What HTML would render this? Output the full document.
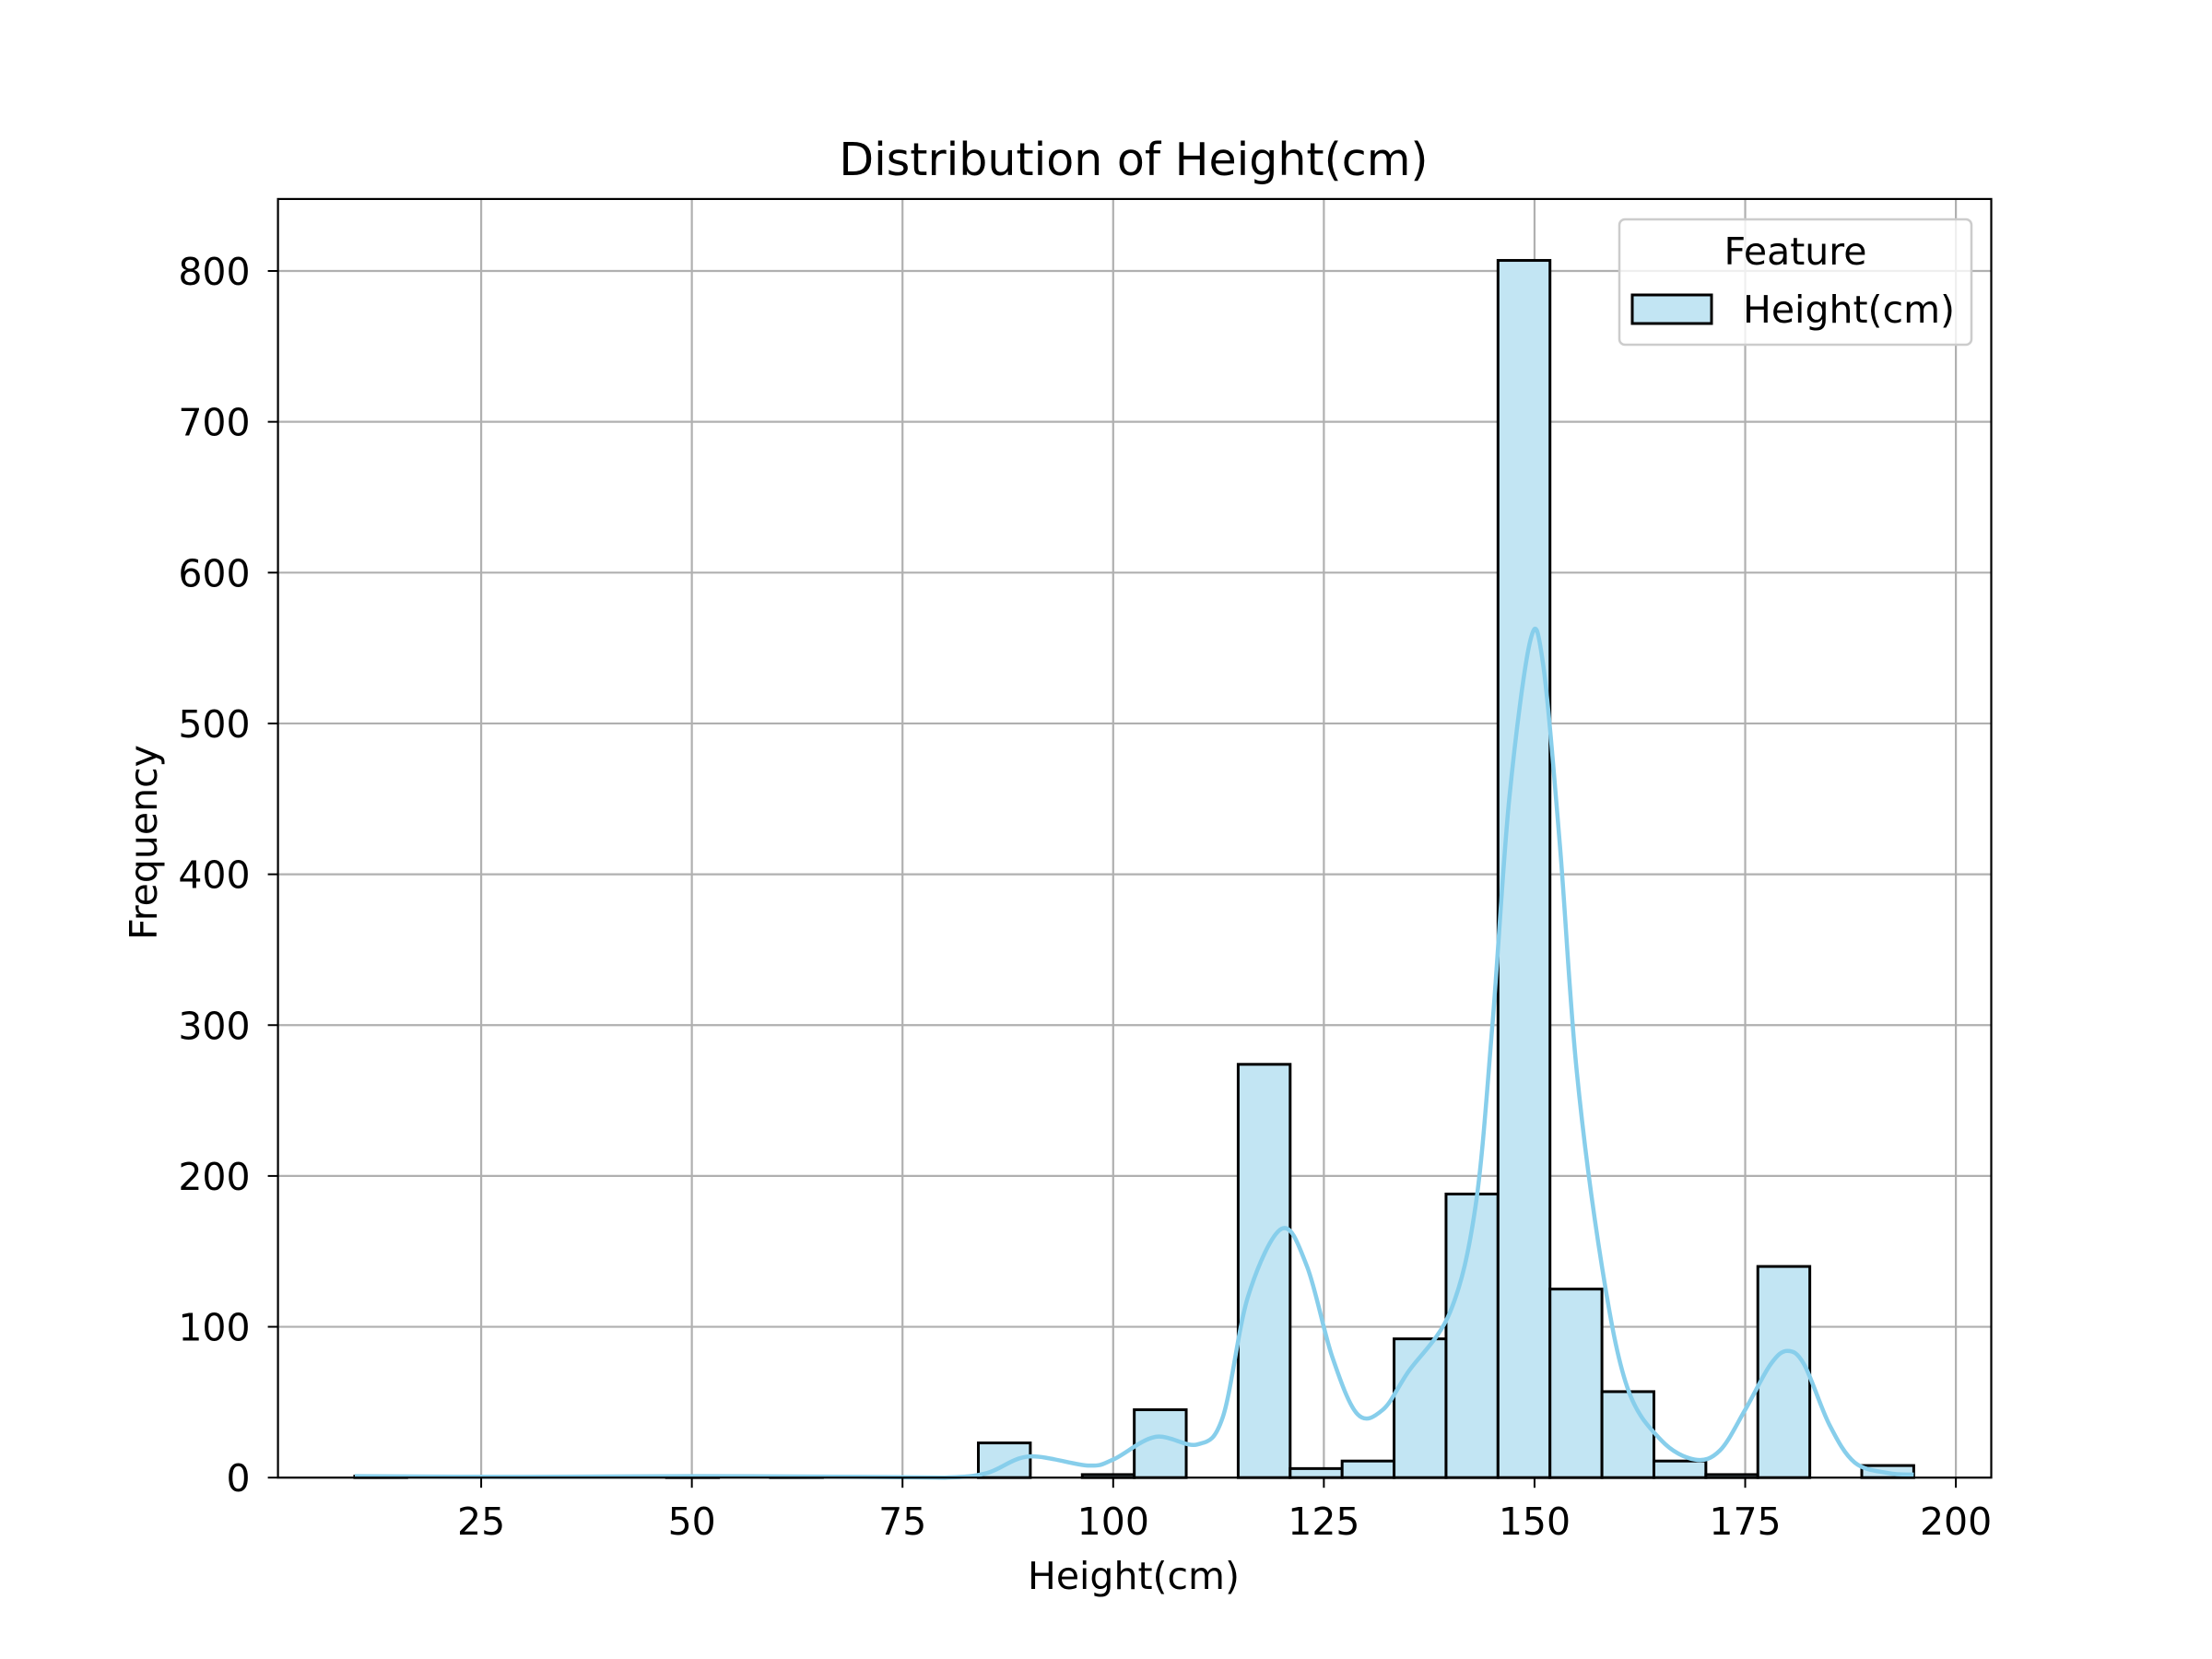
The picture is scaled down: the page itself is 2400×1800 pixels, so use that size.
<!DOCTYPE html>
<html><head><meta charset="utf-8"><style>
html,body{margin:0;padding:0;background:#fff;}
svg{display:block;font-family:"DejaVu Sans","Liberation Sans",sans-serif;}
</style></head><body>
<svg id="chart" width="2400" height="1800" viewBox="0 0 2400 1800" xmlns="http://www.w3.org/2000/svg">
<rect width="2400" height="1800" fill="#fff"/>
<text x="1230" y="190" text-anchor="middle" font-size="49">Distribution of Height(cm)</text>
<g id="grid"></g>
<g id="bars"></g>
<path id="kde" fill="none" stroke="#87ceeb" stroke-width="4.5"/>
<rect x="301.6" y="215.9" width="1858.9" height="1387.3" fill="none" stroke="#000" stroke-width="2.2"/>
<g id="ticks"></g>
<text x="1230" y="1724" text-anchor="middle" font-size="41">Height(cm)</text>
<text transform="translate(170,914) rotate(-90)" text-anchor="middle" font-size="41">Frequency</text>
<g>
<rect x="1757" y="238" width="382" height="136" rx="6" fill="#fff" fill-opacity="0.8" stroke="#ccc" stroke-width="2.5"/>
<text x="1948" y="287" text-anchor="middle" font-size="41">Feature</text>
<rect x="1771" y="320" width="86" height="31" fill="#c2e5f3" stroke="#000" stroke-width="3"/>
<text x="1891" y="350" font-size="41">Height(cm)</text>
</g>
</svg>
<script>
const binStart = 10;
const binEnd = 195;
const counts = [1,0,0,0,0,0,1,0,1,0,0,0,23,0,2,45,0,274,6,11,92,188,807,125,57,11,2,140,0,8];
const kdeX = [10,30,50,70,80,85,90,97,100,105,110,113,116,120,123,126,129,132,135,140,143,145,147,149.5,151,153,155,158,161,165,169,172,175,178,180,182,185,188,192,195];
const kdeY = [1,0.5,1,0.5,0,3,14,8,12,27,22,40,120,165,140,80,42,45,70,110,180,300,450,555,540,420,270,140,60,25,12,18,45,75,84,75,35,10,3,2];
const xTicks = [25,50,75,100,125,150,175,200];
const yTicks = [0,100,200,300,400,500,600,700,800];

const NS = "http://www.w3.org/2000/svg";
const L = 301.6, R = 2160.5, T = 215.9, B = 1603.2;
const sx = v => 293.5 + v * 9.143;
const sy = v => B - v * 1.6365;
function mk(tag, attrs, parent, text){
  const e = document.createElementNS(NS, tag);
  for (const k in attrs) e.setAttribute(k, attrs[k]);
  if (text !== undefined) e.textContent = text;
  parent.appendChild(e); return e;
}
const grid = document.getElementById('grid');
const ticks = document.getElementById('ticks');
xTicks.forEach(t => {
  const g = mk('line', {x1:sx(t), x2:sx(t), y1:T, y2:B, stroke:'#b0b0b0', 'stroke-width':2.2}, grid);
  
  
  const tk = mk('line', {x1:sx(t), x2:sx(t), y1:B, y2:B+11, stroke:'#000', 'stroke-width':2}, ticks);
  
  
  const lb = mk('text', {x:sx(t), y:B+62, 'text-anchor':'middle', 'font-size':41}, ticks, String(t));
  
  
});
yTicks.forEach(t => {
  const g = mk('line', {x1:L, x2:R, y1:sy(t), y2:sy(t), stroke:'#b0b0b0', 'stroke-width':2.2}, grid);
  
  
  const tk = mk('line', {x1:L-11, x2:L, y1:sy(t), y2:sy(t), stroke:'#000', 'stroke-width':2}, ticks);
  
  
  const lb = mk('text', {x:L-30, y:sy(t)+15, 'text-anchor':'end', 'font-size':41}, ticks, String(t));
  
  
});
const bars = document.getElementById('bars');
const bw = (binEnd - binStart) / counts.length;
counts.forEach((c, i) => {
  const x0 = sx(binStart + i * bw), x1 = sx(binStart + (i + 1) * bw);
  const r = mk('rect', {x:x0, y:sy(c), width:x1 - x0, height:B - sy(c), fill:'#c2e5f3', stroke:'#000', 'stroke-width':3}, bars);
  
  
});
const pts = kdeX.map((x, i) => [sx(x), sy(kdeY[i])]);
let d = 'M' + pts[0][0] + ',' + pts[0][1];
for (let i = 0; i < pts.length - 1; i++) {
  const p0 = pts[Math.max(0, i - 1)], p1 = pts[i], p2 = pts[i + 1], p3 = pts[Math.min(pts.length - 1, i + 2)];
  const c1 = [p1[0] + (p2[0] - p0[0]) / 6, p1[1] + (p2[1] - p0[1]) / 6];
  const c2 = [p2[0] - (p3[0] - p1[0]) / 6, p2[1] - (p3[1] - p1[1]) / 6];
  d += ' C' + c1[0] + ',' + Math.min(B, c1[1]) + ' ' + c2[0] + ',' + Math.min(B, c2[1]) + ' ' + p2[0] + ',' + p2[1];
}
document.getElementById('kde').setAttribute('d', d);
</script>
</body></html>
